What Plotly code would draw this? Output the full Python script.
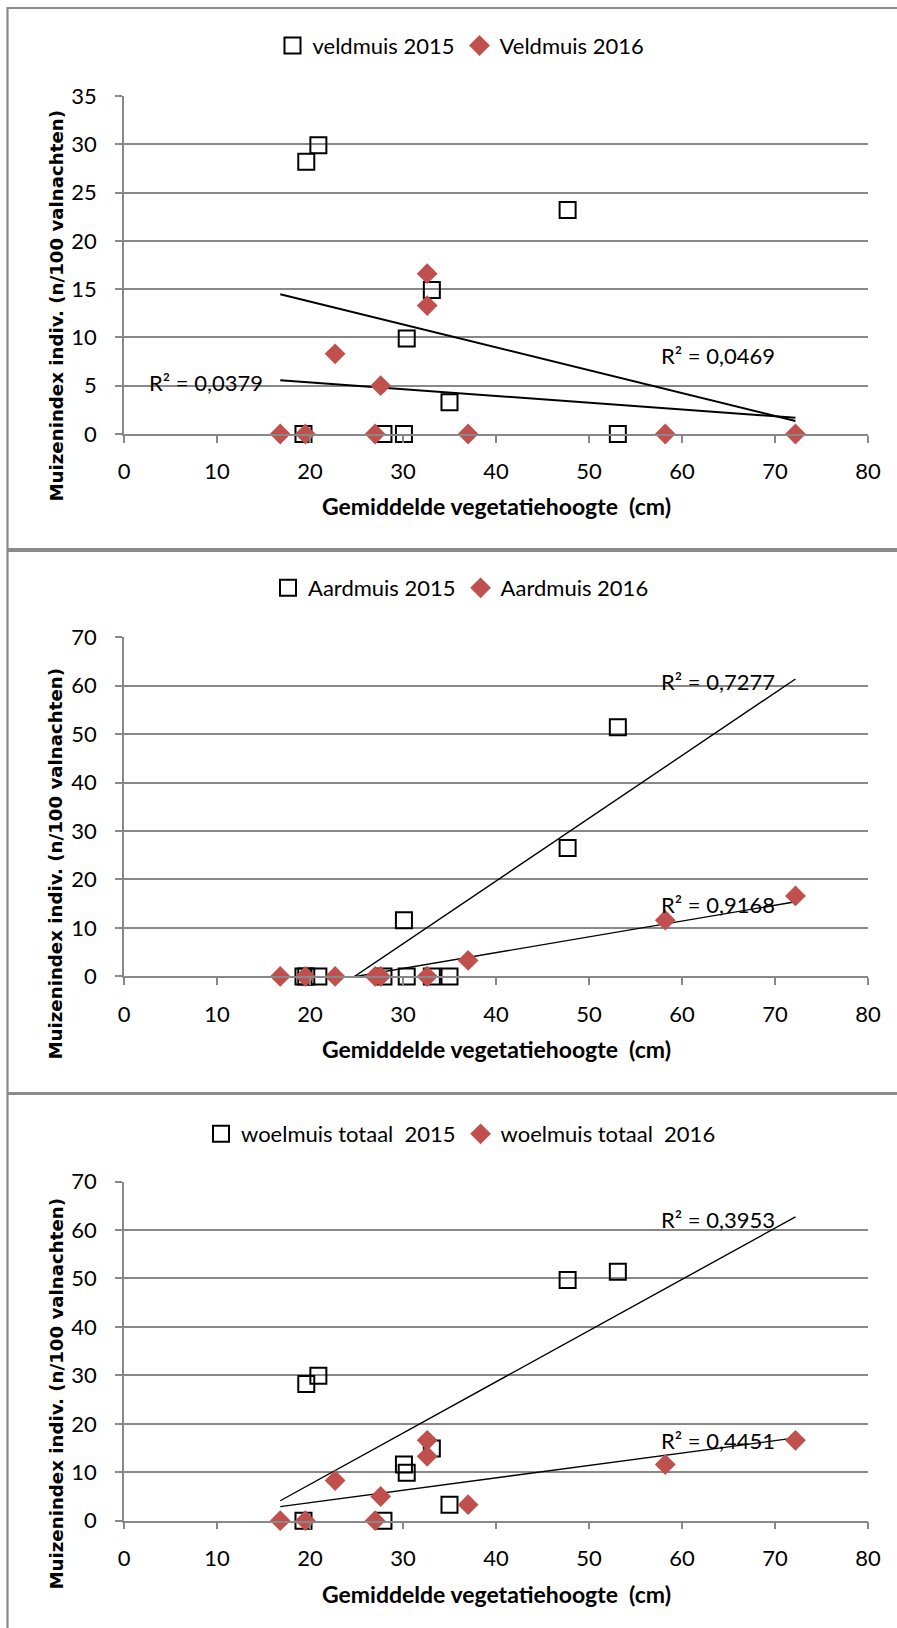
import numpy as np
import plotly.graph_objects as go

# ---- data ----
x_2015 = [19.3, 19.6, 20.9, 27.9, 30.1, 30.4, 33.1, 35.0, 47.7, 53.1]
x_2016 = [16.8, 19.5, 22.7, 27.0, 27.6, 32.6, 32.6, 37.0, 58.2, 72.2]

veld_2015 = [0, 28.2, 29.9, 0, 0, 9.9, 14.9, 3.3, 23.2, 0]
veld_2016 = [0, 0, 8.3, 0, 5.0, 16.6, 13.3, 0, 0, 0]

aard_2015 = [0, 0, 0, 0, 11.6, 0, 0, 0, 26.5, 51.4]
aard_2016 = [0, 0, 0, 0, 0, 0, 0, 3.3, 11.6, 16.6]

woel_2015 = [0, 28.2, 29.9, 0, 11.6, 9.9, 14.9, 3.3, 49.7, 51.4]
woel_2016 = [0, 0, 8.3, 0, 5.0, 16.6, 13.3, 3.3, 11.6, 16.6]

legend_names = [("veldmuis 2015", "Veldmuis 2016"),
                ("Aardmuis 2015", "Aardmuis 2016"),
                ("woelmuis totaal  2015", "woelmuis totaal  2016")]
r2_labels = [("R² = 0,0469", "R² = 0,0379"),
             ("R² = 0,7277", "R² = 0,9168"),
             ("R² = 0,3953", "R² = 0,4451")]
y_max = [35, 70, 70]
y_dtick = [5, 10, 10]
x_title = "Gemiddelde vegetatiehoogte  (cm)"
y_title = "Muizenindex indiv. (n/100 valnachten)"

# ---- layout geometry (pixels) ----
W, H = 897, 1628
def py(p):
    return 1 - p / H

plot_left, plot_right = 124, 868
panels_px = [(96.0, 434.0), (637.1, 976.4), (1181.6, 1520.7)]
legend_y_px = [45.7, 588, 1134]
xtitle_y_px = [506, 1049, 1594]
ytitle_y_px = [306, 864, 1394]
trend_width = [2.0, 1.4, 1.4]
# R² label positions (data coords, left anchored)
r2_pos = [((57.5, 8.1), (2.5, 5.3)),
          ((57.5, 60.9), (57.5, 14.9)),
          ((57.5, 62.1), (57.5, 16.5))]

RED = "#C0504D"
GRID = "#888888"
FONT = "Lato, 'Open Sans', sans-serif"

series = [(veld_2015, veld_2016), (aard_2015, aard_2016), (woel_2015, woel_2016)]

fig = go.Figure()
x_all = x_2015 + x_2016
trend_x = np.array([min(x_all), max(x_all)])

for i, (s15, s16) in enumerate(series):
    xa = "x" if i == 0 else f"x{i+1}"
    ya = "y" if i == 0 else f"y{i+1}"
    leg = "legend" if i == 0 else f"legend{i+1}"
    # trendlines (least-squares, like Excel)
    for xs, ys in ((x_2015, s15), (x_2016, s16)):
        k, b = np.polyfit(xs, ys, 1)
        fig.add_trace(go.Scatter(x=trend_x, y=k * trend_x + b, mode="lines",
                                 line=dict(color="black", width=trend_width[i]),
                                 xaxis=xa, yaxis=ya, showlegend=False,
                                 hoverinfo="skip"))
    fig.add_trace(go.Scatter(x=x_2015, y=s15, mode="markers", name=legend_names[i][0],
                             marker=dict(symbol="square-open", size=16, color="black",
                                         line=dict(width=2, color="black")),
                             xaxis=xa, yaxis=ya, legend=leg, cliponaxis=False))
    fig.add_trace(go.Scatter(x=x_2016, y=s16, mode="markers", name=legend_names[i][1],
                             marker=dict(symbol="diamond", size=16, color=RED,
                                         line=dict(width=0)),
                             xaxis=xa, yaxis=ya, legend=leg, cliponaxis=False))

layout = dict(width=W, height=H, autosize=False,
              margin=dict(l=0, r=0, t=0, b=0, pad=0, autoexpand=False),
              paper_bgcolor="white", plot_bgcolor="white",
              font=dict(family=FONT, size=22, color="black"),
              showlegend=True)

annotations = []
shapes = []
for i in range(3):
    xk = "xaxis" if i == 0 else f"xaxis{i+1}"
    yk = "yaxis" if i == 0 else f"yaxis{i+1}"
    xa = "x" if i == 0 else f"x{i+1}"
    ya = "y" if i == 0 else f"y{i+1}"
    top, bot = panels_px[i]
    layout[xk] = dict(domain=[plot_left / W, plot_right / W], anchor=ya,
                      range=[0, 80], dtick=10, tick0=0, showgrid=False,
                      zeroline=False, showline=True, linecolor=GRID, linewidth=1.5,
                      ticks="outside", ticklen=7, tickwidth=1.5, tickcolor=GRID,
                      ticklabelstandoff=10, automargin=False,
                      tickfont=dict(family=FONT, size=22, color="black"))
    layout[yk] = dict(domain=[py(bot), py(top)], anchor=xa,
                      range=[0, y_max[i]], dtick=y_dtick[i], tick0=0,
                      showgrid=True, gridcolor=GRID, gridwidth=1.5,
                      zeroline=False, showline=True, linecolor=GRID, linewidth=1.5,
                      ticks="outside", ticklen=7, tickwidth=1.5, tickcolor=GRID,
                      ticklabelstandoff=14, automargin=False,
                      tickfont=dict(family=FONT, size=22, color="black"))
    lk = "legend" if i == 0 else f"legend{i+1}"
    layout[lk] = dict(orientation="h", x=461 / W, xanchor="center",
                      y=py(legend_y_px[i]), yanchor="middle",
                      font=dict(family=FONT, size=22, color="black"),
                      bgcolor="rgba(0,0,0,0)", itemwidth=30, tracegroupgap=0)
    annotations.append(dict(text=x_title, xref="paper", yref="paper",
                            x=(plot_left + plot_right) / 2 / W, y=py(xtitle_y_px[i]),
                            xanchor="center", yanchor="middle", showarrow=False,
                            font=dict(family=FONT, size=23, color="black", weight="bold")))
    annotations.append(dict(text=y_title, xref="paper", yref="paper",
                            x=55.5 / W, y=py(ytitle_y_px[i]), textangle=-90,
                            xanchor="center", yanchor="middle", showarrow=False,
                            font=dict(family="DejaVu Sans", size=18.2, color="black",
                                      weight="bold")))
    for j in range(2):
        (ax_, ay_) = r2_pos[i][j]
        annotations.append(dict(text=r2_labels[i][j], xref=xa, yref=ya, x=ax_, y=ay_,
                                xanchor="left", yanchor="middle", showarrow=False,
                                font=dict(family=FONT, size=22, color="black")))

# panel frames
frames_px = [(8, 549), (551, 1093), (1094, 1640)]
for (t, b) in frames_px:
    shapes.append(dict(type="rect", xref="paper", yref="paper",
                       x0=7.5 / W, x1=1.02, y0=py(b), y1=py(t),
                       line=dict(color="#8a8a8a", width=2.2), fillcolor="rgba(0,0,0,0)"))

layout["annotations"] = annotations
layout["shapes"] = shapes
fig.update_layout(**layout)
fig.write_html("out.html", config={"displayModeBar": False},
               post_script="document.body.style.margin='0';document.body.style.overflow='hidden';")
